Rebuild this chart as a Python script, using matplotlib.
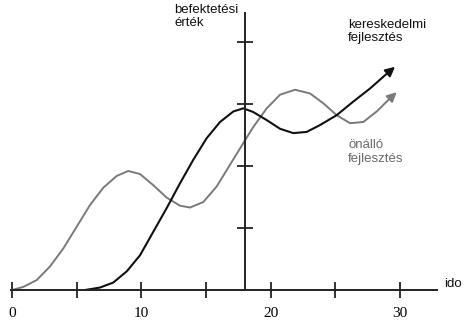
import matplotlib
matplotlib.use("Agg")
import matplotlib.pyplot as plt

# points (x: time, y: value of investment)
onallo_x = [0, 0.87, 1.91, 2.94, 3.97, 5.00, 6.03, 7.06, 8.10, 8.99, 9.90, 10.93,
            11.96, 12.99, 13.77, 14.80, 15.83, 16.86, 17.89, 18.66, 19.70, 20.73,
            21.89, 23.05, 24.08, 25.11, 26.14, 27.17, 28.21, 28.98, 29.75]
onallo_y = [0, 0.05, 0.16, 0.38, 0.67, 1.02, 1.37, 1.65, 1.84, 1.92, 1.87, 1.69,
            1.49, 1.36, 1.33, 1.42, 1.67, 2.02, 2.37, 2.63, 2.93, 3.15,
            3.23, 3.17, 3.01, 2.82, 2.69, 2.71, 2.88, 3.04, 3.19]

keresk_x = [5.65, 6.81, 7.83, 8.87, 9.90, 10.93, 11.96, 12.99, 14.02, 15.06, 16.09,
            17.12, 17.89, 18.66, 19.70, 20.73, 21.76, 22.79, 23.82, 25.11, 26.40,
            27.69, 28.72, 29.62]
keresk_y = [0, 0.04, 0.12, 0.30, 0.56, 0.94, 1.32, 1.72, 2.10, 2.45, 2.71,
            2.88, 2.93, 2.87, 2.74, 2.60, 2.53, 2.55, 2.66, 2.82, 3.04,
            3.25, 3.44, 3.60]

x_ticks = [0, 5, 10, 15, 20, 25, 30]
x_labels = ["0", "", "10", "", "20", "", "30"]
y_ticks = [1, 2, 3, 4]

fig = plt.figure(figsize=(4.66, 3.23), dpi=100)
ax = fig.add_axes([0, 0, 1, 1])
ax.set_xlim(-0.928, 35.11)
ax.set_ylim(-0.532, 4.677)

gray = "#7a7a7a"
black = "#111111"

# curves (line up to the last-but-one point, arrow for the last piece)
ax.plot(onallo_x[:-1], onallo_y[:-1], color=gray, lw=1.4, solid_capstyle="butt",
        solid_joinstyle="round")
ax.annotate("", xy=(onallo_x[-1], onallo_y[-1]), xytext=(onallo_x[-2], onallo_y[-2]),
            arrowprops=dict(arrowstyle="-|>", color=gray, lw=1.4,
                            mutation_scale=14, shrinkA=0, shrinkB=0))
ax.plot(keresk_x[:-1], keresk_y[:-1], color=black, lw=1.5, solid_capstyle="butt",
        solid_joinstyle="round")
ax.annotate("", xy=(keresk_x[-1], keresk_y[-1]), xytext=(keresk_x[-2], keresk_y[-2]),
            arrowprops=dict(arrowstyle="-|>", color=black, lw=1.5,
                            mutation_scale=14, shrinkA=0, shrinkB=0))

# axes: bottom at y=0, vertical axis at x=18
for s in ["top", "right"]:
    ax.spines[s].set_visible(False)
ax.spines["bottom"].set_position(("data", 0))
ax.spines["left"].set_position(("data", 18))
ax.spines["bottom"].set_bounds(-0.1, 32.9)
ax.spines["left"].set_bounds(0, 4.47)
for s in ["bottom", "left"]:
    ax.spines[s].set_color("#222222")
    ax.spines[s].set_linewidth(1.4)

ax.set_xticks(x_ticks)
ax.set_xticklabels(x_labels, fontfamily="Liberation Serif", fontsize=11)
ax.set_yticks(y_ticks)
ax.set_yticklabels([])
ax.tick_params(axis="x", direction="inout", length=11, width=1.3, color="#222222", pad=7)
ax.tick_params(axis="y", direction="inout", length=11, width=1.3, color="#222222")

font = dict(fontfamily="Liberation Sans", fontsize=9.5)
ax.text(33.4, 0.1, "ido", ha="left", va="center", color=black, **font)
ax.text(12.55, 4.62, "befektetési\nérték", ha="left", va="top", color=black,
        linespacing=1.15, **font)
ax.text(26.0, 4.37, "kereskedelmi\nfejlesztés", ha="left", va="top", color=black,
        linespacing=1.15, **font)
ax.text(26.0, 2.43, "önálló\nfejlesztés", ha="left", va="top", color="#6a6a6a",
        linespacing=1.15, **font)

fig.savefig("out.png", dpi=100)
